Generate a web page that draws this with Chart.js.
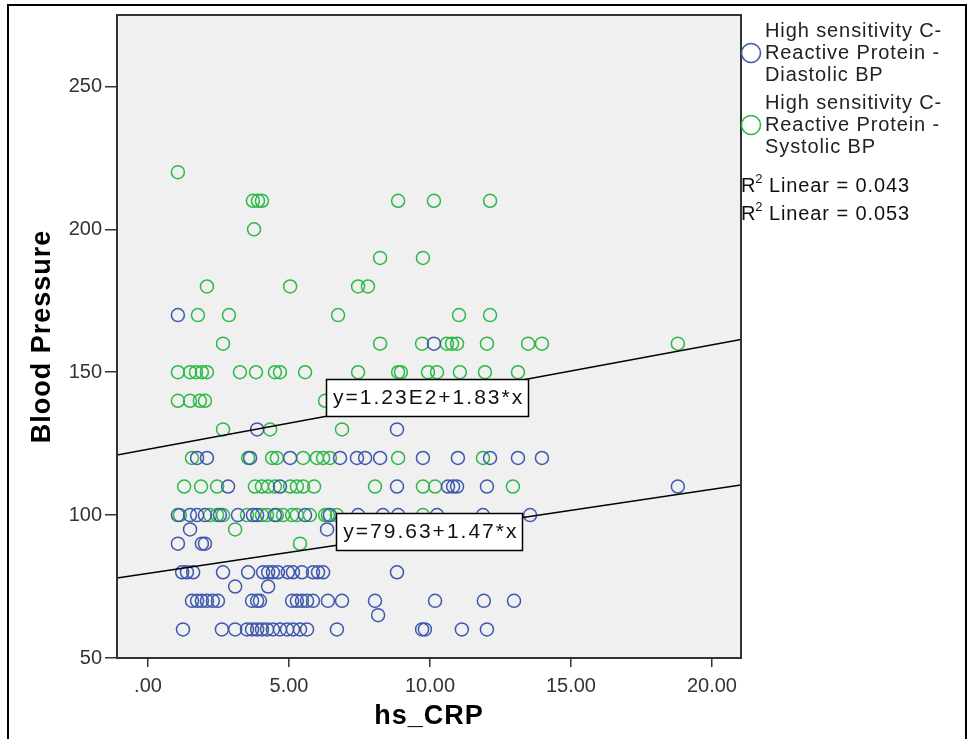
<!DOCTYPE html>
<html><head><meta charset="utf-8">
<script src="https://cdn.jsdelivr.net/npm/chart.js@4.4.1/dist/chart.umd.min.js"></script>
<style>html,body{margin:0;padding:0;background:#fff;}#wrap{width:969px;height:739px;position:relative;}canvas{display:block;}</style>
</head><body><div id="wrap"><canvas id="c" width="969" height="739"></canvas></div>
<script>
// ---- axis ticks ----
const xTickValues = [0, 5, 10, 15, 20];
const xTickLabels = ['.00', '5.00', '10.00', '15.00', '20.00'];
const yTickValues = [50, 100, 150, 200, 250];
const yTickLabels = ['50', '100', '150', '200', '250'];
const xTitle = 'hs_CRP';
const yTitle = 'Blood Pressure';

// ---- series names ----
const seriesNames = ['High sensitivity C-Reactive Protein - Diastolic BP', 'High sensitivity C-Reactive Protein - Systolic BP'];
const legendLines = [['High sensitivity C-', 'Reactive Protein -', 'Diastolic BP'], ['High sensitivity C-', 'Reactive Protein -', 'Systolic BP']];

// ---- Diastolic BP: levels and the hs_CRP values at each level ----
const diastolicLevels = [170, 160, 130, 120, 110, 100, 95, 90, 80, 75, 70, 65, 60];
const diastolicCRP = [
  [1.06],
  [10.14],
  [3.87, 8.83],
  [1.74, 2.09, 3.62, 5.04, 6.81, 7.41, 7.70, 8.23, 9.75, 10.99, 12.13, 13.12, 13.97],
  [2.84, 4.68, 8.83, 10.64, 10.82, 10.96, 12.02, 18.79],
  [1.06, 1.49, 1.74, 2.02, 2.55, 3.19, 3.72, 3.87, 4.50, 5.57, 6.45, 7.45, 8.33, 8.87, 10.25, 11.88, 13.55],
  [1.49, 6.35],
  [1.06, 1.91, 2.02],
  [1.21, 1.38, 1.60, 2.66, 3.55, 4.08, 4.26, 4.43, 4.61, 4.96, 5.14, 5.46, 5.85, 6.03, 6.21, 8.83],
  [3.09, 4.26],
  [1.56, 1.74, 1.91, 2.09, 2.30, 2.48, 3.69, 3.87, 3.97, 5.11, 5.28, 5.46, 5.64, 5.85, 6.38, 6.88, 8.05, 10.18, 11.91, 12.98],
  [8.16],
  [1.24, 2.62, 3.09, 3.51, 3.69, 3.87, 4.04, 4.22, 4.43, 4.68, 4.93, 5.14, 5.39, 5.64, 6.70, 9.72, 9.82, 11.13, 12.02]
];

// ---- Systolic BP: levels and the hs_CRP values at each level ----
const systolicLevels = [220, 210, 200, 190, 180, 170, 160, 150, 140, 130, 120, 110, 100, 95, 90];
const systolicCRP = [
  [1.06],
  [3.72, 3.90, 4.04, 8.87, 10.14, 12.13],
  [3.76],
  [8.23, 9.75],
  [2.09, 5.04, 7.45, 7.80],
  [1.77, 2.87, 6.74, 11.03, 12.13],
  [2.66, 8.23, 9.72, 10.60, 10.78, 10.96, 12.02, 13.48, 13.97, 18.79],
  [1.06, 1.49, 1.70, 1.91, 2.09, 3.26, 3.83, 4.50, 4.68, 5.57, 7.45, 8.87, 8.97, 9.93, 10.25, 11.06, 11.95, 13.12],
  [1.06, 1.49, 1.84, 2.02, 6.28],
  [2.66, 4.33, 6.88],
  [1.56, 3.55, 4.40, 4.57, 5.50, 5.99, 6.21, 6.45, 8.87, 11.88],
  [1.28, 1.88, 2.45, 3.79, 4.04, 4.26, 4.50, 5.04, 5.28, 5.50, 5.89, 8.05, 9.75, 10.18, 12.94],
  [1.13, 2.20, 2.45, 2.66, 3.51, 4.04, 4.22, 4.57, 4.79, 5.11, 5.28, 5.74, 6.28, 6.38, 6.70, 9.75],
  [3.09],
  [5.39]
];

// ---- Linear fits ----
const fitIntercepts = [79.63, 123];     // diastolic, systolic
const fitSlopes = [1.47, 1.83];
const fitLabels = ['y=79.63+1.47*x', 'y=1.23E2+1.83*x'];
const rSquared = ['0.043', '0.053'];

// ---- styling / layout (not data) ----
const X_MIN = -1.1, X_MAX = 21.03, Y_MIN = 50, Y_MAX = 275;
const COLORS = ['#3E58AC', '#2EB848'];
const FONT = '"Liberation Sans", Arial, sans-serif';
const labelAnchors = [{x: 9.96, y: 94.4}, {x: 9.88, y: 141.1}];

function toPoints(levels, crp) {
  const pts = [];
  levels.forEach((lv, i) => crp[i].forEach(x => pts.push({x: x, y: lv})));
  return pts;
}
function fitLine(i) {
  return [X_MIN, X_MAX].map(x => ({x: x, y: fitIntercepts[i] + fitSlopes[i] * x}));
}
function setSpacing(ctx, v) { if ('letterSpacing' in ctx) ctx.letterSpacing = v; }

const decor = {
  id: 'decor',
  beforeDraw(chart) {
    const {ctx, chartArea: a} = chart;
    ctx.save();
    ctx.fillStyle = '#ffffff';
    ctx.fillRect(0, 0, chart.width, chart.height);
    ctx.fillStyle = '#f0f0f0';
    ctx.fillRect(a.left, a.top, a.right - a.left, a.bottom - a.top);
    ctx.restore();
  },
  afterDatasetsDraw(chart) {
    const {ctx} = chart;
    const xs = chart.scales.x, ys = chart.scales.y;
    ctx.save();
    ctx.font = '21px ' + FONT;
    setSpacing(ctx, '2px');
    fitLabels.forEach((t, i) => {
      const cx = xs.getPixelForValue(labelAnchors[i].x);
      const cy = ys.getPixelForValue(labelAnchors[i].y);
      const w = ctx.measureText(t).width + 11;
      const h = 37;
      const bx = Math.round(cx - w / 2), by = Math.round(cy - h / 2);
      ctx.fillStyle = '#fff';
      ctx.fillRect(bx, by, Math.round(w), h);
      ctx.strokeStyle = '#000';
      ctx.lineWidth = 1.5;
      ctx.strokeRect(bx + 0.5, by + 0.5, Math.round(w), h);
      ctx.fillStyle = '#111';
      ctx.textAlign = 'center';
      ctx.textBaseline = 'middle';
      ctx.fillText(t, cx + 2, cy + 1);
    });
    ctx.restore();
  },
  afterDraw(chart) {
    const {ctx, chartArea: a} = chart;
    ctx.save();
    // plot frame
    ctx.strokeStyle = '#333';
    ctx.lineWidth = 2;
    ctx.strokeRect(a.left, a.top, a.right - a.left, a.bottom - a.top);
    // axis titles
    ctx.fillStyle = '#000';
    ctx.font = 'bold 27px ' + FONT;
    setSpacing(ctx, '1px');
    ctx.textAlign = 'center';
    ctx.textBaseline = 'middle';
    ctx.fillText(xTitle, (a.left + a.right) / 2, 717);
    ctx.save();
    ctx.translate(43, (a.top + a.bottom) / 2);
    ctx.rotate(-Math.PI / 2);
    ctx.fillText(yTitle, 0, 0);
    ctx.restore();
    // legend
    ctx.font = '20px ' + FONT;
    setSpacing(ctx, '0.9px');
    ctx.textAlign = 'left';
    const lx = a.right + 10, tx = a.right + 24;
    const groupTop = [31, 103];
    legendLines.forEach((lines, i) => {
      ctx.strokeStyle = COLORS[i];
      ctx.lineWidth = 1.6;
      ctx.beginPath();
      ctx.arc(lx, groupTop[i] + 22, 9.5, 0, Math.PI * 2);
      ctx.stroke();
      ctx.fillStyle = '#222';
      lines.forEach((ln, j) => ctx.fillText(ln, tx, groupTop[i] + 22 * j));
    });
    ctx.fillStyle = '#111';
    rSquared.forEach((r, i) => {
      const y = 186 + 28 * i;
      ctx.font = '20px ' + FONT;
      ctx.fillText('R', a.right, y);
      const rw = ctx.measureText('R').width;
      ctx.font = '13px ' + FONT;
      ctx.fillText('2', a.right + rw - 1, y - 7);
      const w2 = ctx.measureText('2').width;
      ctx.font = '20px ' + FONT;
      ctx.fillText(' Linear = ' + r, a.right + rw + w2 - 2, y);
    });
    // outer border
    setSpacing(ctx, '0px');
    ctx.strokeStyle = '#000';
    ctx.lineWidth = 2;
    ctx.strokeRect(8, 5, 958, 745);
    ctx.restore();
  }
};

const tickFont = {family: FONT, size: 20};
new Chart(document.getElementById('c'), {
  type: 'scatter',
  data: {
    datasets: [
      {type: 'line', label: 'Fit diastolic', data: fitLine(0), borderColor: '#000', borderWidth: 1.5, pointRadius: 0, fill: false, order: 0},
      {type: 'line', label: 'Fit systolic', data: fitLine(1), borderColor: '#000', borderWidth: 1.5, pointRadius: 0, fill: false, order: 0},
      {label: seriesNames[0], data: toPoints(diastolicLevels, diastolicCRP), borderColor: COLORS[0], backgroundColor: 'rgba(0,0,0,0)', borderWidth: 1.5, pointRadius: 6.5, pointStyle: 'circle', order: 1},
      {label: seriesNames[1], data: toPoints(systolicLevels, systolicCRP), borderColor: COLORS[1], backgroundColor: 'rgba(0,0,0,0)', borderWidth: 1.5, pointRadius: 6.5, pointStyle: 'circle', order: 2}
    ]
  },
  options: {
    responsive: false,
    animation: false,
    devicePixelRatio: 1,
    layout: {padding: {left: 0, top: 12, right: 228, bottom: 0}},
    plugins: {legend: {display: false}, tooltip: {enabled: false}},
    scales: {
      x: {
        type: 'linear', min: X_MIN, max: X_MAX,
        afterFit: s => { s.height = 81; },
        afterBuildTicks: s => { s.ticks = xTickValues.map(v => ({value: v})); },
        ticks: {callback: (v, i) => xTickLabels[i], font: tickFont, color: '#333', padding: 7, maxRotation: 0, autoSkip: false},
        grid: {drawOnChartArea: false, drawTicks: true, tickLength: 9, color: '#333', lineWidth: 1.5},
        border: {display: false}
      },
      y: {
        type: 'linear', min: Y_MIN, max: Y_MAX,
        afterFit: s => { s.width = 117; },
        afterBuildTicks: s => { s.ticks = yTickValues.map(v => ({value: v})); },
        ticks: {callback: (v, i) => yTickLabels[i], font: tickFont, color: '#333', padding: 3, autoSkip: false},
        grid: {drawOnChartArea: false, drawTicks: true, tickLength: 12, color: '#333', lineWidth: 1.5},
        border: {display: false}
      }
    }
  },
  plugins: [decor]
});
</script>
</body></html>
